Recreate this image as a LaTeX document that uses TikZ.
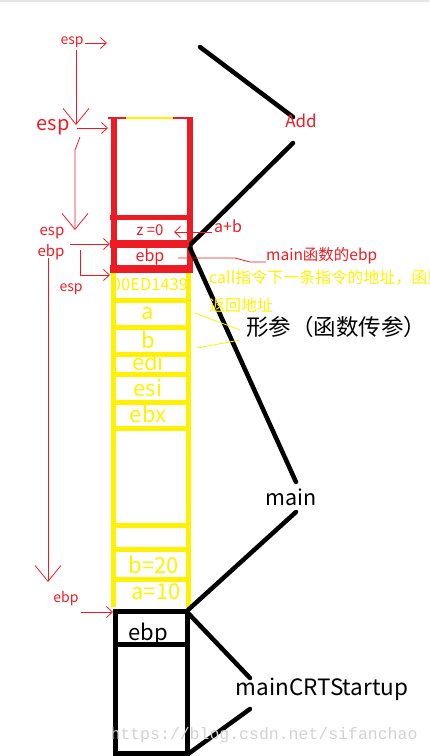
\documentclass[tikz,border=0pt]{standalone}
\usepackage{fontspec}
\setmainfont{Noto Sans CJK SC}
\newfontfamily\wmfont{Liberation Mono}
\usetikzlibrary{arrows.meta}
\definecolor{paintred}{HTML}{ED1C24}
\definecolor{paintyellow}{HTML}{FFF200}

\begin{document}
\begin{tikzpicture}[x=1pt, y=-1pt,
    redtxt/.style={text=paintred, inner sep=0pt},
    yeltxt/.style={text=paintyellow, inner sep=0pt},
    blktxt/.style={text=black, inner sep=0pt},
    redline/.style={paintred, line width=0.8pt},
    redarrow/.style={redline, -{Straight Barb[length=6pt,width=11pt]}},
    longarrow/.style={redline, -{Straight Barb[length=16pt,width=26pt]}},
    bracket/.style={black, line width=4.5pt, line cap=round}]

    \useasboundingbox (0,0) rectangle (429,756);
    \fill[gray!20] (0,0) rectangle (429,2);

    % Add frame (red)
    \draw[paintred, line width=6pt] (113.5,117) -- (113.5,273);
    \draw[paintred, line width=6pt] (189.5,117) -- (189.5,273);
    \draw[paintred, line width=2pt] (108,118) -- (193,118);
    \draw[paintyellow, line width=1.5pt] (126,118) -- (173,118);
    \fill[paintred] (110,215) rectangle (193,220);
    \fill[paintred] (110,240) rectangle (193,248);
    \fill[paintred] (110,265) rectangle (193,273);

    % main frame (yellow)
    \draw[paintyellow, line width=5pt] (113.5,273) -- (113.5,607);
    \draw[paintyellow, line width=5pt] (188.5,273) -- (188.5,607);
    \foreach \y in {298, 325, 352, 372, 400, 426, 523, 547, 577}{
        \fill[paintyellow] (111,\y) rectangle (191,\y+5);
    }

    % mainCRTStartup frame (black)
    \draw[black, line width=5pt] (115.5,611) rectangle (187.5,753.5);
    \fill[black] (113,642) rectangle (190,647);

    % cell contents
    \node[redtxt, font=\fontsize{15}{15}\selectfont] (zcell) at (150,230) {z =0};
    \node[redtxt, font=\fontsize{16}{16}\selectfont] (ebpadd) at (150,257) {ebp};
    \node[yeltxt, font=\fontsize{16.5}{16.5}\selectfont] (retaddr) at (150,285) {00ED1439};
    \node[yeltxt, font=\fontsize{22}{22}\selectfont] (cella) at (148,314) {a};
    \node[yeltxt, font=\fontsize{22}{22}\selectfont] (cellb) at (148,340) {b};
    \node[yeltxt, font=\fontsize{22}{22}\selectfont] (celledi) at (148,362) {edi};
    \node[yeltxt, font=\fontsize{22}{22}\selectfont] (cellesi) at (148,388) {esi};
    \node[yeltxt, font=\fontsize{22}{22}\selectfont] (cellebx) at (148,414) {ebx};
    \node[yeltxt, font=\fontsize{22}{22}\selectfont] (cellb20) at (154,565) {b=20};
    \node[yeltxt, font=\fontsize{22}{22}\selectfont] (cella10) at (156,592) {a=10};
    \node[blktxt, font=\fontsize{22}{22}\selectfont] (ebpmain) at (148,634) {ebp};

    % frame brackets
    \draw[bracket] (200,47) -- (293,117);
    \draw[bracket] (293,143) -- (191,244);
    \draw[bracket] (190,248) -- (296,482);
    \draw[bracket] (296,512) -- (188,610);
    \draw[bracket] (188,613) -- (250,678);
    \draw[bracket] (250,709) -- (188,754);

    % right labels
    \node[redtxt, font=\fontsize{17}{17}\selectfont] (addlbl) at (301,121) {Add};
    \node[redtxt, font=\fontsize{16}{16}\selectfont] (aplusb) at (228,226) {a+b};
    \node[redtxt, anchor=west, font=\fontsize{15.5}{15.5}\selectfont] (mainebp) at (266,256) {main函数的ebp};
    \node[yeltxt, anchor=west, font=\fontsize{16}{16}\selectfont] (calllbl) at (209,278) {call指令下一条指令的地址，函数};
    \node[yeltxt, anchor=west, font=\fontsize{16}{16}\selectfont] (retlbl) at (209,305) {返回地址};
    \node[blktxt, anchor=west, font=\fontsize{22.5}{22.5}\selectfont] (paramlbl) at (246,327) {形参（函数传参）};
    \node[blktxt, font=\fontsize{21.5}{21.5}\selectfont] (mainlbl) at (291,497) {main};
    \node[blktxt, font=\fontsize{22.5}{22.5}\selectfont] (crtlbl) at (322,689) {mainCRTStartup};

    % right connectors
    \draw[redarrow] (212,232) -- (174,232);
    \draw[redline] (178,258) -- (235,258) -- (250,262) -- (266,262);
    \draw[paintyellow, line width=0.8pt] (195,313) -- (240,330);
    \draw[paintyellow, line width=0.8pt] (197,348) -- (240,340);

    % left labels
    \node[redtxt, font=\fontsize{14}{14}\selectfont] (espa) at (72,42) {esp};
    \node[redtxt, font=\fontsize{20}{20}\selectfont] (espb) at (53,127) {esp};
    \node[redtxt, font=\fontsize{15}{15}\selectfont] (espc) at (52,233) {esp};
    \node[redtxt, font=\fontsize{15}{15}\selectfont] (ebpc) at (51,252) {ebp};
    \node[redtxt, font=\fontsize{14}{14}\selectfont] (espd) at (71,289) {esp};
    \node[redtxt, font=\fontsize{14}{14}\selectfont] (ebpd) at (66,599) {ebp};

    % left arrows
    \draw[redarrow] (85,43) -- (107,43);
    \draw[longarrow] (76,50) -- (76,125);
    \draw[redarrow] (77,128) -- (108,128);
    \draw[longarrow] (80,137) -- (75,150) -- (75,230);
    \draw[redarrow] (70,244) -- (110,244);
    \draw[longarrow] (48,258) -- (48,582);
    \draw[redarrow] (80,250) -- (80,275) -- (110,275);
    \draw[redarrow] (81,612) -- (113,612);

    % watermark
    \node[text=gray!35, inner sep=0pt, font=\wmfont\fontsize{16.5}{16.5}\selectfont] (wm) at (264,735) {https://blog.csdn.net/sifanchao};

\end{tikzpicture}
\end{document}
